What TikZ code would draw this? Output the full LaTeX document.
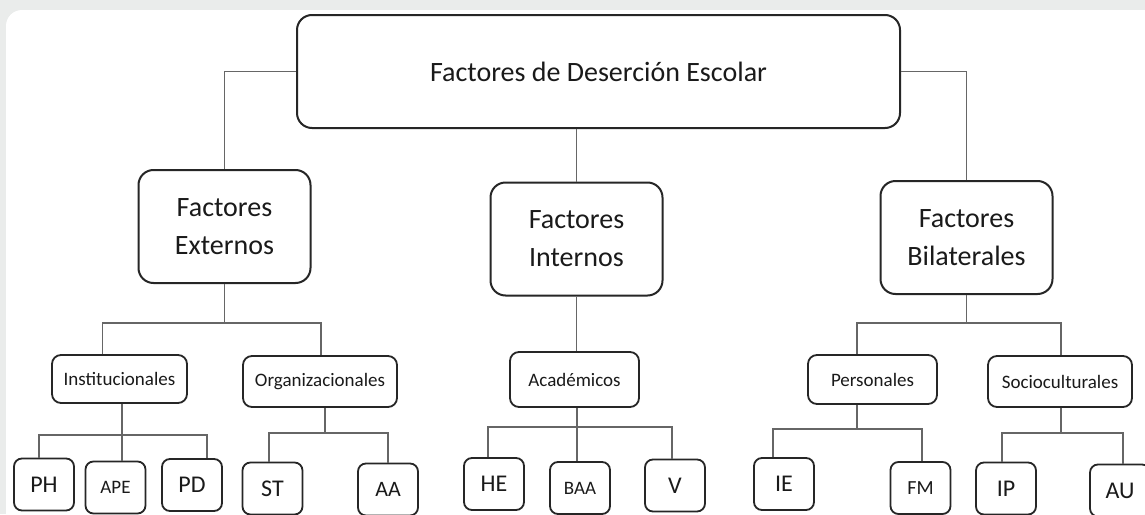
\documentclass[tikz,border=0pt]{standalone}
\usepackage{fontspec}
\setmainfont{Carlito}
\definecolor{bggray}{HTML}{EAECEB}
\definecolor{boxline}{HTML}{262626}
\definecolor{connline}{HTML}{666666}
\definecolor{textcol}{HTML}{1A1A1A}
\tikzstyle{rootblock} = [rectangle, draw=boxline, line width=2pt, fill=white, 
    rounded corners=15pt, inner sep=0pt, text centered, text=textcol,
    font=\fontsize{28}{34}\selectfont]
\tikzstyle{factblock} = [rectangle, draw=boxline, line width=2pt, fill=white, 
    rounded corners=15pt, inner sep=0pt, align=center, text=textcol,
    minimum width=172pt, minimum height=113pt, font=\fontsize{28}{38}\selectfont]
\tikzstyle{subblock} = [rectangle, draw=boxline, line width=1.8pt, fill=white, 
    rounded corners=9pt, inner sep=0pt, text centered, text=textcol,
    font=\fontsize{19}{23}\selectfont]
\tikzstyle{leaf} = [rectangle, draw=boxline, line width=1.8pt, fill=white, 
    rounded corners=8pt, inner sep=0pt, text centered, text=textcol,
    minimum width=60pt, minimum height=52pt, font=\fontsize{24}{28}\selectfont]
\tikzstyle{conn} = [draw=connline, line width=1.6pt]

\begin{document}
\begin{tikzpicture}[x=1pt, y=-1pt]
	% Background and panel
	\useasboundingbox (0,0) rectangle (1145,514);
	\fill[bggray] (0,0) rectangle (1145,514);
	\fill[white, rounded corners=16pt] (6,10) rectangle (1185,545);
	
	% Place nodes
	\node[rootblock, minimum width=603pt, minimum height=113pt] (fde) at (598.5,71.5) {Factores de Deserción Escolar};
	
	\node[factblock] (ext) at (224.5,226.5) {Factores\\Externos};
	\node[factblock] (int) at (576.5,239) {Factores\\Internos};
	\node[factblock] (bil) at (966.5,237.5) {Factores\\Bilaterales};
	
	\node[subblock, minimum width=135pt, minimum height=48pt] (inst) at (119.5,379) {Institucionales};
	\node[subblock, minimum width=154pt, minimum height=51pt] (org) at (320,381.5) {Organizacionales};
	\node[subblock, minimum width=129pt, minimum height=55pt] (acad) at (574.5,379.5) {Académicos};
	\node[subblock, minimum width=129pt, minimum height=49pt] (pers) at (872.5,379.5) {Personales};
	\node[subblock, minimum width=144pt, minimum height=51pt] (socio) at (1060,381.5) {Socioculturales};
	
	\node[leaf] (ph) at (44,484.5) {PH};
	\node[leaf, font=\fontsize{19}{23}\selectfont] (ape) at (115.5,487.5) {APE};
	\node[leaf] (pd) at (192,485) {PD};
	\node[leaf] (st) at (272.5,488.5) {ST};
	\node[leaf, font=\fontsize{22}{26}\selectfont] (aa) at (388,489.5) {AA};
	\node[leaf] (he) at (494,484) {HE};
	\node[leaf, font=\fontsize{19}{23}\selectfont] (baa) at (580,488) {BAA};
	\node[leaf] (v) at (675,485.5) {V};
	\node[leaf] (ie) at (784,484) {IE};
	\node[leaf, font=\fontsize{20}{24}\selectfont] (fm) at (920.5,488) {FM};
	\node[leaf] (ip) at (1006,488.5) {IP};
	\node[leaf] (au) at (1120,490.5) {AU};
	
	% Junctions
	\coordinate (jext) at (224.5,323);
	\coordinate (jbil) at (966.5,323);
	\coordinate (jinst) at (122,435);
	\coordinate (jorg) at (325,433);
	\coordinate (jacad) at (577,427);
	\coordinate (jpers) at (857,429);
	\coordinate (jsocio) at (1061,433);
	
	% Connectors
	\draw[conn] (fde.west) -| (ext.north);
	\draw[conn] (fde.east) -| (bil.north);
	\draw[conn] (fde.south -| int.north) -- (int.north);
	
	\draw[conn] (ext.south) -- (jext);
	\draw[conn] ([xshift=-17pt]inst.north) |- (jext) -| ([xshift=1pt]org.north);
	\draw[conn] (int.south) -- (int.south |- acad.north);
	\draw[conn] (bil.south) -- (jbil);
	\draw[conn] ([xshift=-15.5pt]pers.north) |- (jbil) -| ([xshift=1pt]socio.north);
	
	\draw[conn] (inst.south -| jinst) -- (ape.north -| jinst);
	\draw[conn] ([xshift=-5pt]ph.north) |- (jinst) -| ([xshift=15pt]pd.north);
	\draw[conn] (org.south -| jorg) -- (jorg);
	\draw[conn] ([xshift=-3.5pt]st.north) |- (jorg) -| (aa.north);
	\draw[conn] (acad.south -| jacad) -- (baa.north -| jacad);
	\draw[conn] ([xshift=-6pt]he.north) |- (jacad) -| ([xshift=-3pt]v.north);
	\draw[conn] (pers.south -| jpers) -- (jpers);
	\draw[conn] ([xshift=-11pt]ie.north) |- (jpers) -| ([xshift=1.5pt]fm.north);
	\draw[conn] (socio.south -| jsocio) -- (jsocio);
	\draw[conn] ([xshift=-4pt]ip.north) |- (jsocio) -| ([xshift=3pt]au.north);
 
\end{tikzpicture}
\end{document}
